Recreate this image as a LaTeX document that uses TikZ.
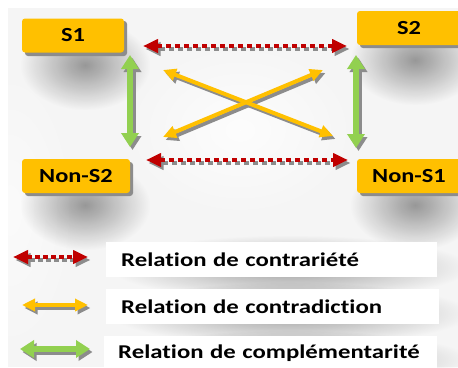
\documentclass[tikz,border=0pt]{standalone}
\usepackage{fontspec}
\setmainfont{Carlito}
\newfontfamily\labfont[FakeStretch=1.22,Ligatures=NoCommon]{Carlito}
\newfontfamily\legfont[FakeStretch=1.27,Ligatures=NoCommon]{Carlito}
\usetikzlibrary{arrows.meta,fadings}
\definecolor{boxor}{HTML}{FFC000}
\definecolor{redarr}{HTML}{C00000}
\definecolor{grnarr}{HTML}{92D050}
\definecolor{shd}{HTML}{8C8C8C}
\tikzfading[name=fuzzy, inner color=transparent!0, outer color=transparent!100]
\tikzset{
  sbox/.style={draw=none,fill=boxor,rounded corners=3pt,minimum height=34pt,
    font=\labfont\bfseries\fontsize{20}{20}\selectfont,text=black,inner sep=0pt},
  hsh/.style={fill=shd,rounded corners=3pt},
  soft/.style={fill=black,opacity=#1,path fading=fuzzy},
  soft/.default=0.35,
  lbox/.style={draw=none,fill=white,anchor=west,minimum height=35pt,inner sep=0pt,
    font=\legfont\bfseries\fontsize{19.5}{19.5}\selectfont,text=black},
  contra/.style={line width=4pt,redarr,dash pattern=on 5pt off 4pt,
    {Triangle[length=15pt,width=13pt]}-{Triangle[length=15pt,width=13pt]}},
  contrash/.style={line width=4pt,shd,dash pattern=on 5pt off 4pt,
    {Triangle[length=15pt,width=13pt]}-{Triangle[length=15pt,width=13pt]}},
  contrad/.style={line width=4pt,boxor,
    {Triangle[length=13pt,width=12pt]}-{Triangle[length=13pt,width=12pt]}},
  contradsh/.style={line width=4pt,shd,
    {Triangle[length=13pt,width=12pt]}-{Triangle[length=13pt,width=12pt]}},
  compl/.style={line width=6pt,grnarr,
    {Triangle[length=14pt,width=17pt]}-{Triangle[length=14pt,width=17pt]}},
  complsh/.style={line width=6pt,shd,
    {Triangle[length=14pt,width=17pt]}-{Triangle[length=14pt,width=17pt]}},
}
\begin{document}
\begin{tikzpicture}[x=1pt,y=-1pt]
\useasboundingbox (0,0) rectangle (458,367);
\fill[white] (0,0) rectangle (458,367);
\fill[gray!8] (8,8) rectangle (458,367);
\fill[white,opacity=0.8,path fading=fuzzy] (120,40) rectangle (360,220);
\fill[white,opacity=0.6,path fading=fuzzy] (-60,60) rectangle (80,360);
% soft shadows
\fill[soft=0.38] (20,20) rectangle (150,110);
\fill[soft=0.38] (20,160) rectangle (150,250);
\fill[soft=0.38] (350,15) rectangle (480,105);
\fill[soft=0.38] (350,160) rectangle (480,250);
\fill[soft=0.35] (110,235) rectangle (470,300);
\fill[soft=0.35] (110,282) rectangle (470,345);
\fill[soft=0.35] (110,330) rectangle (470,390);
% boxes
\fill[hsh] (25,21) rectangle (127,56);
\node[sbox,minimum width=102pt] (s1) at (73,35.5) {S1};
\fill[hsh] (360,14) rectangle (462,48);
\node[sbox,minimum width=104pt] (s2) at (409,28) {S2};
\fill[hsh] (25,162) rectangle (133,196);
\node[sbox,minimum width=108pt] (ns2) at (76,176) {Non-S2};
\fill[hsh] (360,162) rectangle (462,196);
\node[sbox,minimum width=104pt] (ns1) at (409,176) {Non-S1};
% arrow endpoints
\coordinate (a1) at (143,46);  \coordinate (b1) at (347,46);
\coordinate (a2) at (146,160); \coordinate (b2) at (348,160);
\coordinate (g1) at (130,55);  \coordinate (h1) at (130,147);
\coordinate (g2) at (356,55);  \coordinate (h2) at (356,148);
\coordinate (o1) at (163,70);  \coordinate (p1) at (333,136);
\coordinate (o2) at (163,137); \coordinate (p2) at (323,70);
% shadows
\begin{scope}[transform canvas={shift={(2.5pt,-3pt)}}]
\draw[contrash] (a1) -- (b1);
\draw[contrash] (a2) -- (b2);
\draw[complsh] (g1) -- (h1);
\draw[complsh] (g2) -- (h2);
\draw[contradsh] (o1) -- (p1);
\draw[contradsh] (o2) -- (p2);
\end{scope}
\draw[contra] (a1) -- (b1);
\draw[contra] (a2) -- (b2);
\draw[compl] (g1) -- (h1);
\draw[compl] (g2) -- (h2);
\draw[contrad] (o1) -- (p1);
\draw[contrad] (o2) -- (p2);
% legend
\node[lbox,minimum width=331pt,text width=301pt,align=left] (l1) at (106,259.5) {Relation de contrariété};
\node[lbox,minimum width=333pt,text width=303pt,align=left] (l2) at (106,306.5) {Relation de contradiction};
\node[lbox,minimum width=333pt,text width=305pt,align=left] (l3) at (104,353) {Relation de complémentarité};
\coordinate (lr1) at (13,257); \coordinate (lr2) at (88,257);
\coordinate (lo1) at (22,305); \coordinate (lo2) at (88,305);
\coordinate (lg1) at (20,349); \coordinate (lg2) at (90,349);
\begin{scope}[transform canvas={shift={(2.5pt,-3pt)}}]
\draw[contrash,dash pattern=on 5pt off 3pt] (lr1) -- (lr2);
\draw[contradsh] (lo1) -- (lo2);
\draw[complsh] (lg1) -- (lg2);
\end{scope}
\draw[contra,dash pattern=on 5pt off 3pt] (lr1) -- (lr2);
\draw[contrad] (lo1) -- (lo2);
\draw[compl] (lg1) -- (lg2);
\end{tikzpicture}
\end{document}
